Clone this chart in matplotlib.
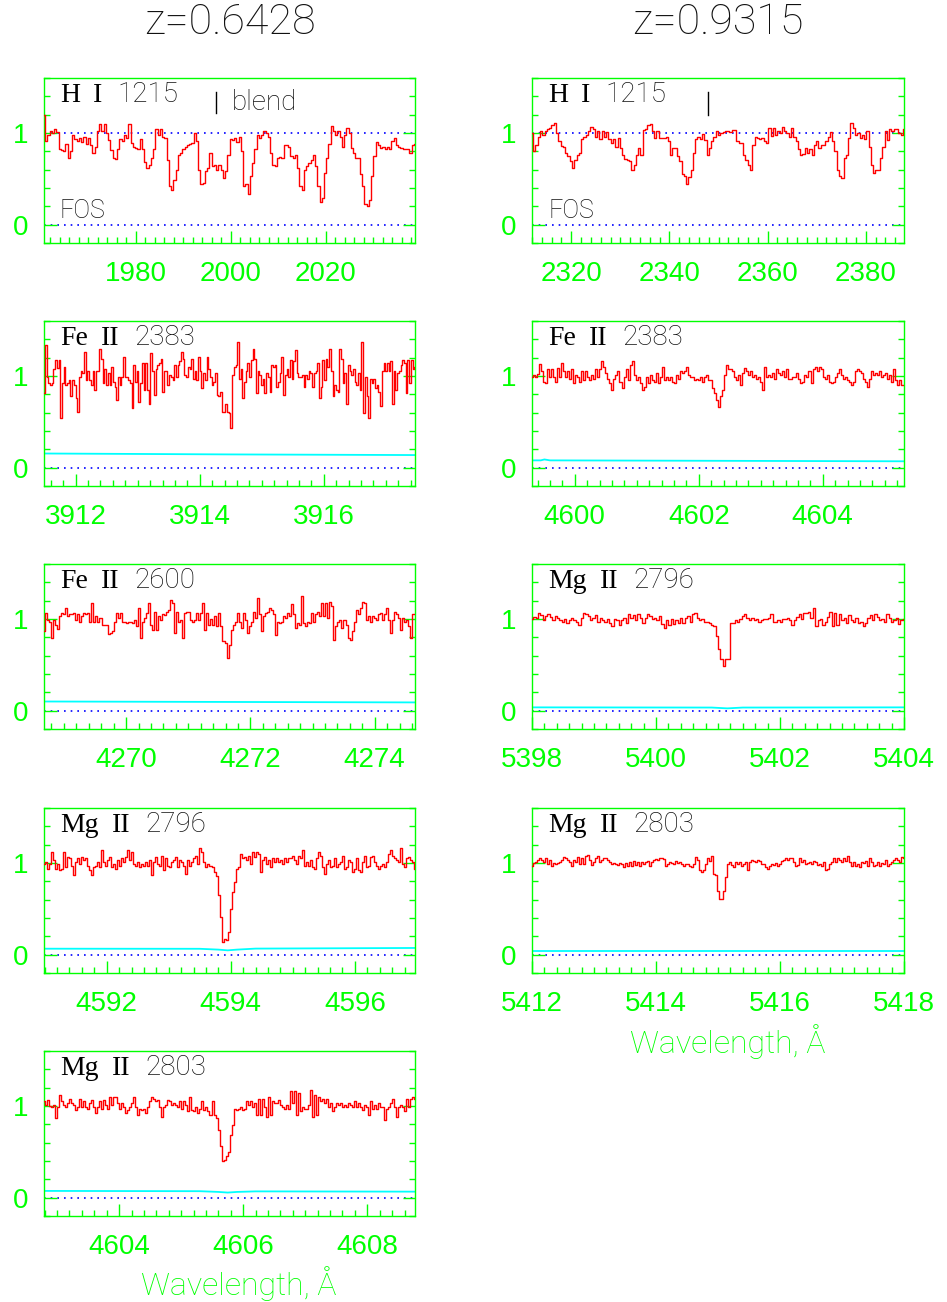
import numpy as np
import matplotlib
matplotlib.use('Agg')
import matplotlib.pyplot as plt
from matplotlib.ticker import MultipleLocator

GREEN = '#00ff00'
THIN = 'Roboto'
INK = '#111111'

titles = ['z=0.6428', 'z=0.9315']

# --- z=0.6428 column ---
lab_a = ['H I 1215', 'Fe II 2383', 'Fe II 2600', 'Mg II 2796', 'Mg II 2803']
win_a = [(1960.7, 2038.8), (3911.49, 3917.47), (4268.68, 4274.65),
         (4590.99, 4596.97), (4602.79, 4608.77)]

flux_a_hi = [1.20,0.91,0.98,1.02,1.00,1.04,1.01,0.82,0.81,0.80,0.88,0.73,0.80,0.98,0.93,0.91,0.95,0.90,0.96,0.88,
             0.95,0.87,0.78,0.85,1.02,1.10,1.02,1.10,1.00,0.92,0.81,0.73,0.72,0.82,0.93,0.91,0.98,0.95,1.10,0.89,
             0.85,0.84,0.82,0.93,0.82,0.68,0.62,0.65,0.73,0.82,1.04,0.98,1.04,0.96,0.95,0.71,0.42,0.38,0.49,0.60,
             0.76,0.78,0.82,0.85,0.87,0.88,0.89,1.00,0.91,0.60,0.44,0.45,0.58,0.62,0.78,0.64,0.65,0.60,0.65,0.60,
             0.51,0.58,0.76,0.93,0.92,0.95,0.90,0.96,0.80,0.42,0.44,0.33,0.53,0.67,0.82,0.98,0.95,0.98,1.02,1.00,
             0.96,0.78,0.65,0.64,0.73,0.74,0.73,0.87,0.87,0.85,0.75,0.73,0.76,0.62,0.42,0.38,0.60,0.64,0.67,0.71,
             0.76,0.64,0.42,0.25,0.29,0.56,0.73,0.88,1.08,1.02,0.98,1.02,0.96,0.85,0.98,1.05,1.00,0.84,0.78,0.73,
             0.73,0.55,0.42,0.22,0.20,0.27,0.53,0.75,0.90,0.87,0.84,0.85,0.82,0.85,0.82,0.91,0.95,0.87,0.85,0.84,
             0.82,0.82,0.83,0.78,0.87,0.88]
flux_a_fe2383 = [0.82,1.34,0.99,0.92,0.90,0.92,1.08,1.17,1.09,1.17,0.54,0.92,1.10,0.90,0.92,0.96,0.78,0.96,0.90,0.76,
                 0.61,0.99,1.05,1.03,1.26,0.96,1.05,0.96,0.90,1.06,0.85,1.05,1.06,1.30,1.19,0.92,1.08,0.90,1.03,0.90,
                 1.10,0.94,0.88,0.74,0.99,0.90,0.99,1.21,0.99,0.99,0.96,0.92,0.65,1.12,0.94,1.06,0.72,0.92,1.14,0.85,
                 1.14,0.85,0.69,1.25,1.05,0.79,1.08,1.12,1.14,1.19,0.83,1.05,1.06,0.90,1.01,0.99,0.96,1.12,0.99,1.12,
                 1.16,1.26,1.19,1.01,0.99,1.10,1.08,1.19,0.97,1.06,0.96,1.21,1.05,0.87,1.03,0.96,1.21,1.08,0.99,0.90,
                 0.94,1.03,0.79,0.78,0.83,0.61,0.61,0.70,0.61,0.60,0.43,1.01,1.10,1.12,1.37,0.97,1.08,0.76,0.94,1.06,
                 1.14,0.99,1.17,1.30,1.19,0.81,1.06,1.01,0.90,0.97,0.81,1.03,0.99,0.83,1.12,1.10,1.12,0.88,0.94,1.03,
                 1.21,0.79,1.01,1.08,0.99,1.17,0.97,1.16,1.28,1.03,0.99,0.99,1.01,0.88,1.01,0.97,1.05,1.03,0.88,1.03,
                 1.06,1.14,0.76,0.88,1.17,0.96,1.19,1.10,1.30,1.06,0.78,0.90,0.85,0.83,1.30,1.19,0.92,1.03,0.69,1.12,
                 1.06,1.01,1.08,0.94,0.90,1.03,0.85,1.37,0.60,0.99,0.78,0.54,0.97,0.92,0.97,0.87,0.90,0.83,0.67,1.06,
                 1.14,1.05,1.14,1.06,1.16,0.70,1.05,0.85,1.03,1.06,1.12,1.17,1.14,0.81,1.17,0.92,1.17,1.08,1.10]
flux_a_fe2600 = [0.87,1.07,0.99,0.97,0.79,0.99,0.94,0.89,1.03,1.07,1.05,1.12,1.03,1.05,1.05,1.07,0.99,1.05,0.97,1.03,
                 1.07,1.05,1.07,0.97,1.17,0.97,1.03,0.97,1.01,0.94,0.94,0.93,0.84,0.85,0.87,0.97,1.07,1.01,1.07,0.97,
                 0.97,0.96,0.97,0.97,0.96,0.99,0.92,1.12,0.79,0.97,1.01,1.07,1.17,0.94,0.88,1.08,0.88,1.03,0.99,1.05,
                 1.04,1.08,1.10,1.21,1.17,0.85,1.08,0.97,0.99,0.79,1.07,1.08,1.08,0.99,0.97,0.99,1.07,0.99,1.07,1.17,
                 0.88,1.07,0.94,1.00,0.94,1.03,0.92,1.07,0.92,0.76,0.74,0.57,0.72,0.88,0.94,0.97,1.07,0.97,0.90,1.07,
                 0.99,0.85,0.92,0.97,1.08,1.01,1.23,1.05,0.87,1.03,1.07,1.08,1.12,1.10,1.05,0.83,0.97,0.96,0.97,1.03,
                 1.01,1.07,1.03,1.16,1.05,0.90,0.96,0.94,1.25,0.96,0.92,0.97,0.96,1.07,0.97,1.05,1.08,1.03,1.17,1.03,
                 1.17,1.01,1.19,1.14,0.77,0.92,0.97,0.99,0.90,0.99,0.94,0.79,0.77,0.87,0.97,1.10,1.05,1.12,1.19,1.17,
                 0.99,1.03,0.97,1.03,1.01,0.99,1.05,1.07,0.99,1.05,1.12,0.99,0.85,0.99,1.08,1.05,1.01,0.88,1.01,0.97,
                 0.99,0.92,0.79,1.05,1.05]
flux_a_mg2796 = [0.99,1.01,0.94,0.99,1.12,1.03,0.94,0.99,0.92,0.94,1.12,0.96,1.07,1.05,0.97,0.87,1.01,1.05,0.99,1.07,
                 1.03,1.05,0.97,0.92,0.87,0.96,0.97,1.01,0.96,1.14,1.01,0.97,1.03,1.07,0.96,0.99,0.94,1.03,0.97,1.05,
                 1.01,1.07,1.14,1.03,1.12,0.99,0.97,1.01,0.96,0.99,0.97,1.01,0.97,1.03,0.87,1.01,1.07,0.99,0.97,1.08,
                 0.92,1.05,0.97,0.96,1.01,1.03,1.07,0.96,1.03,1.01,0.97,0.88,1.03,0.97,1.01,1.05,1.08,0.99,1.16,1.12,
                 1.01,0.96,0.99,0.97,0.96,0.90,0.86,0.65,0.41,0.14,0.17,0.16,0.25,0.50,0.68,0.79,0.94,0.96,1.10,1.05,
                 1.07,1.03,1.08,0.99,1.12,1.07,1.12,1.10,0.90,1.03,1.07,0.99,1.03,0.96,1.05,1.01,1.05,1.01,1.03,0.99,
                 1.05,1.01,1.05,1.05,1.08,1.03,0.99,1.08,1.05,1.14,0.97,1.01,0.97,1.03,0.96,0.94,1.05,1.12,1.08,0.96,
                 0.88,0.99,1.03,0.96,0.97,1.05,0.96,0.99,1.01,1.08,0.94,0.96,1.03,1.01,0.90,0.94,1.05,0.92,0.90,1.01,
                 1.08,0.96,0.97,1.07,1.08,1.01,0.97,0.94,0.97,0.99,0.96,1.01,1.10,1.14,1.08,1.05,1.03,1.01,1.16,0.99,
                 0.96,1.05,1.07,1.03,1.01,0.94]
flux_a_mg2803 = [1.05,1.01,1.07,1.00,0.99,1.01,0.87,0.99,1.12,1.05,1.01,0.99,1.03,1.08,1.03,1.01,0.96,0.99,1.08,0.99,
                 1.05,0.99,0.97,1.03,1.07,0.99,0.92,0.99,1.05,0.97,1.07,1.01,0.97,1.10,1.01,1.10,1.10,1.03,0.97,1.03,
                 0.99,0.92,0.96,0.99,1.03,1.10,0.99,0.90,0.97,0.96,0.97,0.92,0.99,1.05,1.10,1.08,1.05,1.07,0.99,0.88,
                 0.99,1.01,1.07,1.05,1.01,1.03,1.01,0.99,1.05,0.97,1.05,1.01,0.94,1.10,0.96,0.94,0.99,0.92,0.97,1.05,
                 0.96,0.99,0.94,0.90,1.05,0.90,0.87,0.74,0.56,0.40,0.41,0.45,0.50,0.68,0.79,0.97,0.96,0.97,0.99,0.96,
                 0.97,1.05,1.01,1.05,0.99,1.03,0.90,1.08,0.90,1.08,0.99,0.88,1.10,0.90,1.05,1.03,1.03,1.07,1.01,0.99,
                 0.97,1.01,0.97,1.16,1.03,1.16,0.90,1.14,0.94,0.99,0.97,0.97,1.01,1.17,0.88,1.12,0.90,1.10,1.05,1.08,
                 1.03,1.08,0.99,1.03,0.94,0.99,1.03,1.01,1.03,0.99,1.01,0.99,1.03,1.01,0.99,1.05,0.99,1.03,0.99,0.96,
                 1.01,0.99,0.90,1.05,0.97,1.01,0.97,1.03,0.99,0.99,0.85,0.97,0.99,1.03,1.08,0.99,0.88,0.99,1.01,0.99,
                 0.94,1.08,0.99,1.08,1.10,1.08]

# error spectra (wavelength, sigma)
err_a = [None,
         ([3911.49, 3914.5, 3917.47], [0.155, 0.145, 0.138]),
         ([4268.68, 4274.65], [0.100, 0.090]),
         ([4590.99, 4593.5, 4593.8, 4593.95, 4594.1, 4594.4, 4596.97],
          [0.065, 0.064, 0.055, 0.047, 0.055, 0.066, 0.073]),
         ([4602.79, 4605.3, 4605.6, 4605.75, 4605.9, 4606.2, 4608.77],
          [0.073, 0.070, 0.062, 0.055, 0.062, 0.068, 0.065])]

# --- z=0.9315 column ---
lab_b = ['H I 1215', 'Fe II 2383', 'Mg II 2796', 'Mg II 2803']
win_b = [(2312.0, 2387.8), (4599.31, 4605.31), (5398.0, 5404.0), (5412.0, 5418.0)]

flux_b_hi = [1.00,0.80,0.87,0.96,1.02,0.98,1.02,1.04,1.05,1.09,1.11,1.00,0.91,0.86,0.85,0.78,0.75,0.69,0.62,0.71,
             0.76,0.78,0.93,0.96,0.98,1.02,1.07,1.04,0.96,1.02,0.93,1.02,0.96,1.01,0.93,0.89,0.93,0.85,0.95,0.84,
             0.76,0.72,0.71,0.69,0.60,0.65,0.76,0.84,0.76,1.03,1.04,1.09,1.10,1.02,0.95,1.02,0.95,0.95,0.95,0.96,
             0.91,0.76,0.84,0.84,0.75,0.69,0.55,0.53,0.44,0.52,0.60,0.78,0.93,0.96,0.93,0.99,0.92,0.76,0.84,0.91,
             0.96,1.02,0.98,1.00,1.01,1.02,1.02,1.01,1.03,1.03,0.91,0.89,0.89,0.76,0.71,0.65,0.60,0.87,0.96,0.95,
             0.93,0.95,0.91,0.89,1.05,0.97,1.05,0.98,1.02,1.00,1.07,1.02,1.00,0.96,1.05,0.96,0.91,0.82,0.76,0.77,
             0.84,0.78,0.83,0.76,0.87,0.91,0.84,0.87,0.87,0.91,0.96,1.01,0.91,0.80,0.60,0.53,0.51,0.73,0.76,0.95,
             1.11,1.05,0.98,1.00,0.95,0.98,0.93,1.02,0.85,0.65,0.56,0.60,0.60,0.73,0.85,1.02,0.92,1.04,1.02,1.04,
             1.04,1.00,0.98,1.04]
flux_b_fe2383 = [0.99,1.01,0.99,1.02,1.13,1.06,0.94,0.92,1.08,0.99,1.08,0.99,0.94,1.09,0.99,1.14,1.05,0.99,1.06,0.97,
                 1.08,0.92,1.01,0.99,0.94,1.05,0.96,1.05,0.99,0.96,1.01,0.97,1.08,0.99,1.08,1.16,1.10,1.03,0.97,0.92,
                 0.85,0.97,1.01,1.06,0.94,0.87,0.99,1.08,0.96,1.12,1.16,1.01,0.96,0.99,0.92,0.85,0.88,0.99,0.92,1.01,
                 0.96,0.94,1.03,0.92,0.99,1.10,0.96,0.99,0.96,0.99,0.94,0.92,1.01,0.97,1.06,1.03,1.06,1.10,1.01,0.99,
                 0.99,0.96,0.97,0.96,0.99,0.94,0.99,1.01,0.96,0.96,0.87,0.81,0.74,0.66,0.78,0.85,1.01,1.12,1.08,1.08,
                 1.06,0.99,0.96,1.01,0.90,1.03,1.09,1.06,1.01,1.06,0.99,1.01,0.97,0.99,0.94,0.85,1.10,0.99,1.01,0.99,
                 1.03,0.97,1.08,1.03,1.01,1.05,0.99,1.08,0.97,0.97,0.99,0.99,1.03,0.97,0.92,0.94,1.01,0.99,1.05,0.92,
                 1.08,1.10,1.05,1.10,1.08,0.99,0.97,1.01,0.94,0.92,0.94,0.99,1.03,1.08,1.01,0.97,0.99,0.96,0.94,0.90,
                 0.94,1.06,1.08,1.06,1.03,0.97,0.94,0.88,0.97,1.05,1.01,1.03,1.01,1.05,0.99,1.01,1.03,0.97,1.01,0.94,
                 1.08,0.96,0.90,0.96,0.90,0.90]
flux_b_mg2796 = [1.00,1.02,1.01,1.07,1.04,0.99,1.03,1.05,1.02,0.99,1.03,1.01,0.99,0.97,1.00,0.96,0.99,1.01,0.99,0.97,
                 0.93,1.01,1.07,1.05,1.03,0.99,1.01,1.04,0.97,1.01,0.99,0.97,1.00,0.96,0.92,1.00,0.99,0.94,0.99,1.01,
                 0.96,1.05,1.01,1.04,0.99,1.05,1.01,0.96,1.01,1.05,1.03,1.00,1.01,0.99,1.03,0.95,0.90,0.99,0.94,1.00,
                 0.95,0.99,0.96,1.01,0.96,1.01,1.03,0.97,1.05,1.07,1.01,0.99,1.00,0.97,0.97,0.96,0.94,0.92,0.81,0.67,
                 0.56,0.49,0.56,0.56,0.96,0.96,0.99,0.97,1.00,1.03,1.06,1.01,0.99,1.01,0.99,1.00,0.97,0.99,1.00,1.00,
                 1.01,1.05,0.97,0.97,0.99,0.97,1.00,1.00,1.01,0.99,0.94,0.99,1.02,1.05,1.00,1.07,1.07,1.08,1.01,1.12,
                 0.92,0.99,1.00,0.94,0.97,1.02,1.08,0.92,1.07,0.94,1.05,0.99,1.01,0.96,1.04,0.99,0.97,1.01,0.96,0.97,
                 0.92,0.96,1.01,1.04,0.99,1.05,1.02,0.99,1.00,0.97,1.05,1.01,0.97,0.99,1.01,0.95,0.99,1.00]
flux_b_mg2803 = [0.97,1.00,1.01,1.03,1.05,1.03,1.01,1.05,0.99,1.03,0.97,1.00,0.99,1.00,1.01,1.03,1.07,1.05,1.03,1.01,
                 0.97,1.03,1.01,1.07,0.99,1.05,0.99,1.08,1.09,1.03,0.98,1.01,1.05,1.08,1.01,1.03,1.05,1.05,1.03,1.01,
                 0.99,1.00,0.99,0.98,1.00,0.99,0.96,1.00,0.97,1.01,0.97,1.02,0.98,1.01,0.97,1.01,0.99,1.01,1.02,0.97,
                 1.01,1.03,1.04,1.03,1.05,1.05,1.04,0.97,0.99,1.01,1.00,0.99,1.02,1.00,1.01,0.99,0.97,0.99,0.99,0.97,
                 0.96,0.99,1.07,1.03,0.92,0.90,0.92,0.99,1.05,1.02,1.08,0.88,0.87,0.70,0.61,0.61,0.70,0.85,0.99,1.01,
                 0.98,0.96,1.01,0.99,1.01,0.97,0.99,1.01,0.92,1.01,1.03,1.02,1.01,1.03,1.02,0.99,0.99,0.96,0.94,0.97,
                 0.99,0.98,1.00,0.97,0.99,1.02,1.03,1.05,1.03,1.05,1.05,1.01,0.97,0.98,1.05,1.01,1.03,0.99,1.00,1.01,
                 0.99,1.02,1.01,0.98,0.99,0.97,1.01,0.92,0.94,0.99,1.01,1.05,1.01,1.05,1.03,1.01,1.05,1.02,1.08,1.01,
                 0.97,1.01,0.97,0.99,0.96,1.01,1.00,1.02,0.97,1.05,1.01,0.97,0.98,1.01,0.97,1.00,0.99,1.03,0.97,0.99,
                 1.01,1.03,1.05,1.03,1.01,1.07,1.05]

err_b = [None,
         ([4599.31, 4599.45, 4599.51, 4599.6, 4605.31], [0.080, 0.080, 0.090, 0.080, 0.070]),
         ([5398.0, 5400.9, 5401.15, 5401.4, 5404.0], [0.036, 0.034, 0.025, 0.034, 0.036]),
         ([5412.0, 5418.0], [0.036, 0.036])]

# line markers in the Lyman alpha panels (wavelength)
mark_a = 1996.9
mark_b = 2347.9

fluxes_a = [flux_a_hi, flux_a_fe2383, flux_a_fe2600, flux_a_mg2796, flux_a_mg2803]
fluxes_b = [flux_b_hi, flux_b_fe2383, flux_b_mg2796, flux_b_mg2803]

fig = plt.figure(figsize=(9.47, 13.02), dpi=100)
fig.patch.set_facecolor('white')
renderer = fig.canvas.get_renderer()

row_bottoms = [0.8134, 0.6267, 0.4401, 0.2527, 0.0661]
row_h = 0.1267
col_x = [(0.0465, 0.3918), (0.5618, 0.3928)]


def panel_label(ax, text):
    elem, roman, num = text.split()
    t = ax.text(0.043, 0.855, elem, transform=ax.transAxes, family='Liberation Serif',
                fontsize=20, color='black')
    x = t.get_window_extent(renderer).x1 + 13
    xa = ax.transAxes.inverted().transform((x, 0))[0]
    t = ax.text(xa, 0.855, roman, transform=ax.transAxes, family='Liberation Serif',
                fontsize=20, color='black')
    x = t.get_window_extent(renderer).x1 + 15
    xa = ax.transAxes.inverted().transform((x, 0))[0]
    ax.text(xa, 0.855, num, transform=ax.transAxes, family=THIN, fontweight='light',
            fontsize=20, color=INK)


def draw(col, row, flux, win, lab, err):
    x0, w = col_x[col]
    ax = fig.add_axes([x0, row_bottoms[row], w, row_h])
    wave = np.linspace(win[0], win[1], len(flux))
    if row == 0:
        ax.axhline(1, color='blue', lw=1.2, ls=(0, (1, 3)), zorder=1)
    ax.axhline(0, color='blue', lw=1.2, ls=(0, (1, 3)), zorder=1)
    if err is not None:
        ax.plot(err[0], err[1], color='cyan', lw=1.3, zorder=2)
    ax.step(wave, flux, where='mid', color='red', lw=1, zorder=3)
    ax.set_xlim(win)
    ax.set_ylim(-0.2, 1.6)
    span = win[1] - win[0]
    if span > 20:
        ax.xaxis.set_major_locator(MultipleLocator(20))
        ax.xaxis.set_minor_locator(MultipleLocator(2))
    else:
        ax.xaxis.set_major_locator(MultipleLocator(2))
        ax.xaxis.set_minor_locator(MultipleLocator(0.2))
    ax.xaxis.set_major_formatter(plt.FuncFormatter(lambda v, p: '%d' % round(v)))
    ax.set_yticks([0, 1])
    ax.set_yticklabels(['0', '1'])
    ax.yaxis.set_minor_locator(MultipleLocator(0.2))
    ax.tick_params(axis='both', which='both', direction='in', color=GREEN, width=1,
                   labelcolor=GREEN, labelsize=20)
    ax.tick_params(axis='x', which='major', length=9, pad=13)
    ax.tick_params(axis='x', which='minor', length=4.5)
    ax.tick_params(axis='y', which='major', length=9, pad=11, right=True)
    ax.tick_params(axis='y', which='minor', length=4, right=True)
    for lbl in ax.get_xticklabels() + ax.get_yticklabels():
        lbl.set_family('Liberation Sans')
    for s in ax.spines.values():
        s.set_color(GREEN)
        s.set_linewidth(1)
    panel_label(ax, lab)
    if row == 0:
        ax.text(0.043, 0.15, 'FOS', transform=ax.transAxes, family=THIN, fontweight='light',
                fontsize=18, color=INK)
    return ax


for i in range(5):
    ax = draw(0, i, fluxes_a[i], win_a[i], lab_a[i], err_a[i])
    if i == 0:
        ax.plot([mark_a, mark_a], [1.22, 1.45], color='black', lw=1)
        ax.text(mark_a + 3.3, 1.33, 'blend', family=THIN, fontweight='light', fontsize=20,
                color=INK, va='center')
for i in range(4):
    ax = draw(1, i, fluxes_b[i], win_b[i], lab_b[i], err_b[i])
    if i == 0:
        ax.plot([mark_b, mark_b], [1.2, 1.45], color='black', lw=1)

fig.text(0.2423, 0.983, titles[0], ha='center', va='center', family=THIN, fontweight='light',
         fontsize=31, color=INK)
fig.text(0.7582, 0.983, titles[1], ha='center', va='center', family=THIN, fontweight='light',
         fontsize=31, color=INK)
fig.text(0.252, 0.0138, 'Wavelength, Å', ha='center', va='center', family=THIN,
         fontweight='light', fontsize=23, color=GREEN)
fig.text(0.768, 0.1997, 'Wavelength, Å', ha='center', va='center', family=THIN,
         fontweight='light', fontsize=23, color=GREEN)

fig.savefig('out.png', dpi=100, facecolor='white')
